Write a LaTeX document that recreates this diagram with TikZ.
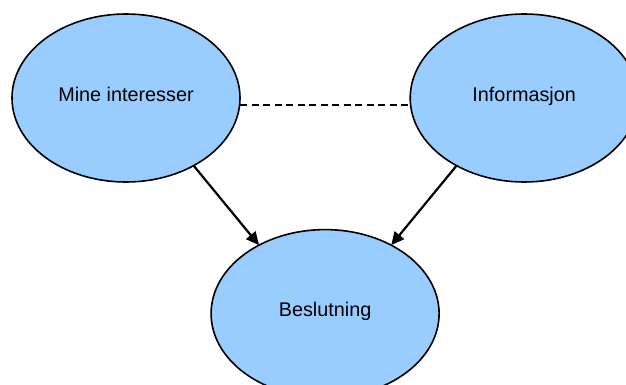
\documentclass[tikz,border=0pt]{standalone}
\usepackage{fontspec}
\setmainfont{Liberation Sans}
\usetikzlibrary{matrix, shapes, arrows.meta}
\definecolor{bubblefill}{HTML}{99CCFF}

\begin{document}
\begin{tikzpicture}[>={Triangle[length=13pt,width=12pt]},
bubble/.style={ellipse, draw, line width=1.6pt, fill=bubblefill,
  minimum width=228pt, minimum height=168pt, inner sep=0pt, outer sep=0pt,
  text height=14pt, text depth=8pt, font=\fontsize{19.8}{24}\selectfont},
link/.style={line width=2.2pt},
]
\useasboundingbox (0pt,0pt) rectangle (626pt,-385pt);
\matrix[row sep = 46pt, column sep = -30.5pt, inner sep=0pt, anchor=north west] at (11pt,-13pt) {
%first row
\node (mine) [bubble] {Mine interesser};&
&
\node (info) [bubble] {Informasjon};\\
%second row
&
\node (beslutning) [bubble] {Beslutning};&
\\
};
\draw [line width=1.6pt, dash pattern=on 7pt off 4.5pt] ([yshift=-7pt]mine.east)--([yshift=-7pt]info.west);
\draw [link,->] (mine.-45)--(beslutning.134);
\draw [link,->] (info.-135)--(beslutning.46);
\end{tikzpicture}
\end{document}
